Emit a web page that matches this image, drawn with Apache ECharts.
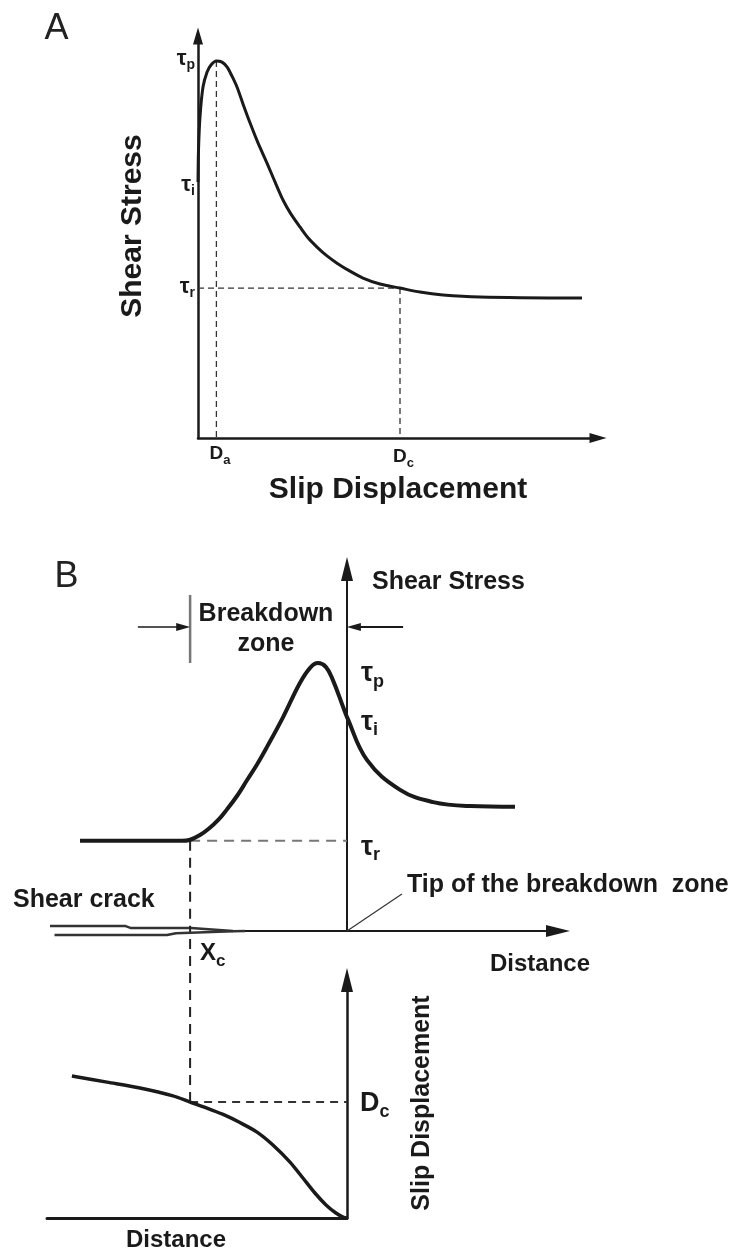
<!DOCTYPE html>
<html lang="en">
<head>
<meta charset="UTF-8">
<title>Slip-weakening model</title>
<script src="https://cdn.jsdelivr.net/npm/echarts@6.0.0/dist/echarts.min.js"></script>
<style>
    html, body { margin: 0; padding: 0; background: #fff; }
    #main { width: 738px; height: 1253px; }
</style>
</head>
<body>
<div id="main"></div>
<script>
// ---- A: shear stress against slip displacement ----
var aSlip   = [0, 0.125, 0.5, 1.25, 2.25, 3.25, 4.6, 6, 7.25, 8.5, 9.75, 11.25, 13, 15, 17.25, 19.25, 21.25, 23.25,
               25.5, 27.5, 29.75, 32.25, 34.75, 38, 41.25, 45.5, 50.5, 55.5, 61.25, 70.5, 96];
var aStress = [63.7, 71.6, 79.9, 87.3, 91.0, 92.8, 93.8, 93.5, 92.3, 90.0, 87.3, 83.1, 78.4, 73.4, 68.4, 63.7, 59.2, 55.7,
               52.5, 49.8, 47.5, 45.3, 43.5, 41.5, 39.8, 38.3, 37.3, 36.3, 35.6, 35.1, 34.8];
var aStressTicks = [93.8, 63.7, 37.3];   // tau p, tau i, tau r
var aStressSubs  = ['p', 'i', 'r'];
var aSlipTicks   = [4.6, 50.5];          // D a, D c
var aSlipSubs    = ['a', 'c'];

// ---- B upper: shear stress along the fault ----
var bDist   = [-89, -55, -52.3, -49, -46, -43, -40, -36.5, -33.3, -30, -26.7, -21.3, -15.7, -12.3, -9.7, -7, -4.7, -1.3,
               0, 6.7, 17.7, 28.7, 41, 56];
var bStress = [24.9, 24.9, 25.2, 26.5, 28.3, 30.6, 33.6, 37.5, 41.7, 46.0, 50.8, 59.1, 68.5, 72.7, 74.0, 72.9, 69.3, 61.9,
               59.1, 47.2, 39.0, 35.6, 34.5, 34.3];
var bStressTicks = [74.0, 59.1, 24.9];
var bStressSubs  = ['p', 'i', 'r'];
var xc = -52.3;                 // back end of the breakdown zone
var zoneBar = [92.8, 74.0];     // the short bar marking it
var zoneArrowY = 84;
var zoneArrowFrom = [-69.7, 18.7];
var tipLeader = [18.3, 10.2];
var crackEnd = -38;             // where the two crack faces meet the axis
// the crack: two faces closing toward the tip
var crackUpX = [-99, -74, -72, -52, -38];
var crackUpY = [1.4, 1.4, 0.8, 0.8, 0];
var crackLoX = [-97.5, -60, -57, -38, -34];
var crackLoY = [-1.1, -1.1, -0.6, -0.1, 0];

// ---- B lower: slip along the fault ----
var sDist = [-91.7, -80, -69, -58, -52.3, -46.7, -41.3, -35.7, -30, -24.7, -19, -14.7, -10.7, -7, -3.7, -1.3, 0];
var sSlip = [59.7, 57.1, 54.6, 51.3, 48.7, 46.2, 43.5, 40.1, 36.1, 30.7, 23.5, 16.8, 10.5, 5.5, 2.1, 0.4, 0];
var sSlipTicks = [48.7];
var sSlipSubs  = ['c'];

var FONT = 'Liberation Sans';
var INK = '#1a1a1a';
var gA  = {left: 198, top: 36,  width: 400, height: 402};
var gB1 = {left: 50,  top: 569, width: 508, height: 362};
var gB2 = {left: 47,  top: 980, width: 300, height: 238};

// dashed Xc line runs on from the lower panel up to the upper distance axis
var xcTop = ((gB2.top + gB2.height) - (gB1.top + gB1.height)) / gB2.height * 100;

function pairs(xs, ys) {
    return xs.map(function (x, i) { return [x, ys[i]]; });
}

// letter + lowered subscript, one style pair per label
function subRich(rich, key, size, subSize, dy, drop, weight, padLeft) {
    var box = 80, mid = box / 2 + dy, smid = mid + drop;
    rich[key] = {fontFamily: FONT, fontSize: size, fontWeight: weight, color: INK, verticalAlign: 'top',
        padding: [mid - size / 2, 0, box - mid - size / 2, padLeft || 0]};
    rich[key + 's'] = {fontFamily: FONT, fontSize: subSize, fontWeight: weight, color: INK, verticalAlign: 'top',
        padding: [smid - subSize / 2, 0, box - smid - subSize / 2, 0]};
}

var richAy = {}, richAx = {}, richBy = {}, richSy = {}, richXc = {};
subRich(richAy, 'a0', 22, 14, -2, 6, 'bold');
subRich(richAy, 'a1', 22, 14, 3, 6, 'bold');
subRich(richAy, 'a2', 22, 14, -1, 6, 'bold');
subRich(richAx, 'd0', 19, 13, -24, 6, 'bold', 7);
subRich(richAx, 'd1', 19, 13, -21, 6, 'bold', 7);
subRich(richBy, 'b0', 27, 18, 10.5, 8, 'bold', 14);
subRich(richBy, 'b1', 27, 18, 5, 8, 'bold', 14);
subRich(richBy, 'b2', 27, 18, 6.5, 8, 'bold', 14);
subRich(richSy, 'c0', 27, 18, 1, 9, 'bold');
subRich(richXc, 'x0', 24, 17, 22.5, 8, 'bold', 10);

function labelFn(key, ticks, main, subs) {
    return function (v) {
        var i = ticks.indexOf(v);
        return '{' + key + i + '|' + main + '}{' + key + i + 's|' + subs[i] + '}';
    };
}

function seg(xi, data, color, width, dash, extra) {
    var s = {
        type: 'line', xAxisIndex: xi, yAxisIndex: xi, data: data,
        showSymbol: false, silent: true, clip: false, z: 2,
        lineStyle: {color: color, width: width, type: dash || 'solid', cap: 'butt'}
    };
    for (var k in extra) s[k] = extra[k];
    return s;
}

function arrowHead(from, to, rot) {
    return [{value: from, symbol: 'none'},
            {value: to, symbol: 'triangle', symbolSize: [8, 14], symbolRotate: rot}];
}

var nameStyle = function (size, extra) {
    var s = {fontFamily: FONT, fontSize: size, fontWeight: 'bold', color: INK};
    for (var k in extra) s[k] = extra[k];
    return s;
};
var noTick = {show: false};
var noSplit = {show: false};

var myChart = echarts.init(document.getElementById('main'), null, {renderer: 'canvas'});

var option = {
    animation: false,
    backgroundColor: '#fff',
    textStyle: {fontFamily: FONT},
    grid: [
        Object.assign({outerBoundsMode: 'none'}, gA),
        Object.assign({outerBoundsMode: 'none'}, gB1),
        Object.assign({outerBoundsMode: 'none'}, gB2)
    ],
    xAxis: [
        {
            gridIndex: 0, type: 'value', min: 0, max: 100,
            axisLine: {onZero: false, symbol: ['none', 'triangle'], symbolSize: [10, 17],
                lineStyle: {color: INK, width: 2.5}},
            axisTick: noTick, splitLine: noSplit,
            axisLabel: {customValues: aSlipTicks, margin: 0, hideOverlap: false,
                formatter: labelFn('d', aSlipTicks, 'D', aSlipSubs), rich: richAx},
            name: 'Slip Displacement', nameLocation: 'middle', nameGap: 37, nameMoveOverlap: false,
            nameTextStyle: nameStyle(30)
        },
        {
            gridIndex: 1, type: 'value', min: -99, max: 70.33,
            axisLine: {onZero: false, symbol: ['none', 'triangle'], symbolSize: [12, 24],
                lineStyle: {color: INK, width: 2}},
            axisTick: noTick, splitLine: noSplit, axisLabel: {show: false},
            name: 'Distance', nameLocation: 'end', nameGap: 32, nameMoveOverlap: false,
            nameTextStyle: nameStyle(24, {align: 'right', verticalAlign: 'top', padding: [21, 0, 0, 0]})
        },
        {
            gridIndex: 2, type: 'value', min: -100, max: 0,
            axisLine: {onZero: false, lineStyle: {color: INK, width: 3}},
            axisTick: noTick, splitLine: noSplit, axisLabel: {show: false},
            name: 'Distance', nameLocation: 'middle', nameGap: 10, nameMoveOverlap: false,
            nameTextStyle: nameStyle(24, {padding: [0, 42, 0, 0]})
        }
    ],
    yAxis: [
        {
            gridIndex: 0, type: 'value', min: 0, max: 100,
            axisLine: {onZero: false, symbol: ['none', 'triangle'], symbolSize: [10, 17],
                lineStyle: {color: INK, width: 2.5}},
            axisTick: noTick, splitLine: noSplit,
            axisLabel: {customValues: aStressTicks, margin: 3, hideOverlap: false,
                formatter: labelFn('a', aStressTicks, 'τ', aStressSubs), rich: richAy},
            name: 'Shear Stress', nameLocation: 'middle', nameRotate: 90, nameGap: 50, nameMoveOverlap: false,
            nameTextStyle: nameStyle(30, {padding: [0, 0, 0, 22]})
        },
        {
            gridIndex: 1, type: 'value', min: 0, max: 100,
            axisLine: {onZero: true, symbol: ['none', 'triangle'], symbolSize: [12, 24],
                lineStyle: {color: INK, width: 2}},
            axisTick: noTick, splitLine: noSplit, axisLabel: {show: false},
            name: 'Shear Stress', nameLocation: 'end', nameGap: -13, nameMoveOverlap: false,
            nameTextStyle: nameStyle(25, {align: 'left', verticalAlign: 'middle', padding: [0, 0, 0, 25]})
        },
        {
            gridIndex: 2, type: 'value', min: 0, max: 100, position: 'right',
            axisLine: {onZero: false, symbol: ['none', 'triangle'], symbolSize: [12, 24],
                lineStyle: {color: INK, width: 2.5}},
            axisTick: noTick, splitLine: noSplit,
            axisLabel: {customValues: sSlipTicks, margin: 13, hideOverlap: false,
                formatter: labelFn('c', sSlipTicks, 'D', sSlipSubs), rich: richSy},
            name: 'Slip Displacement', nameLocation: 'middle', nameRotate: 90, nameGap: 63, nameMoveOverlap: false,
            nameTextStyle: nameStyle(25, {padding: [0, 8, 0, 0]})
        }
    ],
    series: [
        // A
        seg(0, [[aSlipTicks[0], aStressTicks[0]], [aSlipTicks[0], 0]], '#333', 1.3, [6, 4]),
        seg(0, [[0, aStressTicks[2]], [aSlipTicks[1], aStressTicks[2]]], '#333', 1.3, [6, 4]),
        seg(0, [[aSlipTicks[1], aStressTicks[2]], [aSlipTicks[1], 0]], '#333', 1.3, [6, 4]),
        seg(0, pairs(aSlip, aStress), INK, 3, null, {smooth: 0.3, z: 3}),

        // B upper: the open crack replaces the axis line left of where the faces meet
        seg(1, [[-100, 0], [crackEnd, 0]], '#fff', 4, null, {z: 1}),
        seg(1, pairs(crackUpX, crackUpY), '#333', 2.5),
        seg(1, pairs(crackLoX, crackLoY), '#333', 2.5),
        seg(1, [[xc, bStressTicks[2]], [0, bStressTicks[2]]], '#777', 2, [10, 7]),
        seg(1, [[xc, bStressTicks[2]], [xc, 0]], '#222', 2, [10, 7]),
        seg(1, [[xc, zoneBar[0]], [xc, zoneBar[1]]], '#777', 2.5),
        seg(1, arrowHead([zoneArrowFrom[0], zoneArrowY], [xc - 2.3, zoneArrowY], -90), INK, 1.5, null,
            {showSymbol: true, itemStyle: {color: INK}}),
        seg(1, arrowHead([zoneArrowFrom[1], zoneArrowY], [2.3, zoneArrowY], 90), INK, 2, null,
            {showSymbol: true, itemStyle: {color: INK}}),
        seg(1, [[0, 0], tipLeader], '#333', 1.2),
        seg(1, pairs(bDist, bStress), INK, 4, null, {smooth: 0.4, z: 3}),
        {
            type: 'scatter', xAxisIndex: 1, yAxisIndex: 1, symbolSize: 0, silent: true, clip: false,
            itemStyle: {opacity: 1},
            data: bStressTicks.map(function (v) { return [0, v]; }),
            label: {show: true, position: 'right', distance: 0, textBorderWidth: 0, color: INK, opacity: 1,
                formatter: function (p) {
                    var i = p.dataIndex;
                    return '{b' + i + '|τ}{b' + i + 's|' + bStressSubs[i] + '}';
                }, rich: richBy}
        },
        {
            type: 'scatter', xAxisIndex: 1, yAxisIndex: 1, data: [[xc, 0]], symbolSize: 0,
            silent: true, clip: false, itemStyle: {opacity: 1},
            label: {show: true, position: 'right', distance: 0, textBorderWidth: 0, color: INK, opacity: 1,
                formatter: '{x0|X}{x0s|c}', rich: richXc}
        },

        // B lower
        seg(2, [[xc, sSlipTicks[0]], [0, sSlipTicks[0]]], '#333', 2, [8, 6]),
        seg(2, [[xc, sSlipTicks[0]], [xc, xcTop]], '#222', 2, [10, 7]),
        seg(2, pairs(sDist, sSlip), INK, 3.5, null, {smooth: 0.3, z: 3})
    ],
    graphic: [
        {type: 'text', x: 56.5, y: 29.5, silent: true,
            style: {text: 'A', font: '36px ' + FONT, fill: '#222', align: 'center', verticalAlign: 'middle'}},
        {type: 'text', x: 66.5, y: 577.5, silent: true,
            style: {text: 'B', font: '36px ' + FONT, fill: '#222', align: 'center', verticalAlign: 'middle'}},
        {type: 'text', x: 266, y: 629, silent: true,
            style: {text: 'Breakdown\nzone', font: 'bold 25px ' + FONT, lineHeight: 30, fill: INK,
                align: 'center', verticalAlign: 'middle'}},
        {type: 'text', x: 13, y: 900, silent: true,
            style: {text: 'Shear crack', font: 'bold 25px ' + FONT, fill: INK, align: 'left', verticalAlign: 'middle'}},
        {type: 'text', x: 407, y: 885, silent: true,
            style: {text: 'Tip of the breakdown  zone', font: 'bold 25px ' + FONT, fill: INK,
                align: 'left', verticalAlign: 'middle'}}
    ]
};

myChart.setOption(option);
</script>
</body>
</html>
